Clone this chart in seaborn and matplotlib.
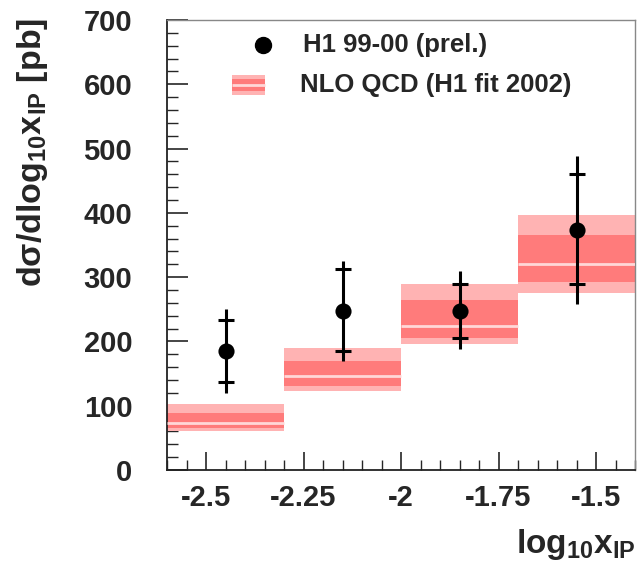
import numpy as np
import pandas as pd
import matplotlib
matplotlib.use('Agg')
import matplotlib.pyplot as plt
import seaborn as sns
from matplotlib.ticker import MultipleLocator, FixedLocator
from matplotlib.patches import Rectangle

# ---- data ----
bin_low = [-2.6, -2.3, -2.0, -1.7]
bin_high = [-2.3, -2.0, -1.7, -1.4]
nlo_central = [73, 147, 224, 320]
nlo_inner_low = [65, 130, 205, 293]
nlo_inner_high = [89, 169, 265, 366]
nlo_outer_low = [61, 123, 196, 275]
nlo_outer_high = [102, 190, 289, 397]

data_x = [-2.45, -2.15, -1.85, -1.55]
data_y = [185, 247, 247, 374]
stat_low = [137, 185, 205, 289]
stat_high = [234, 312, 290, 460]
tot_low = [120, 169, 188, 259]
tot_high = [250, 325, 309, 488]

xticks = [-2.5, -2.25, -2.0, -1.75, -1.5]
xticklabels = ['-2.5', '-2.25', '-2', '-1.75', '-1.5']
yticks = [0, 100, 200, 300, 400, 500, 600, 700]
yticklabels = ['0', '100', '200', '300', '400', '500', '600', '700']

legend_labels = ['H1 99-00 (prel.)', 'NLO QCD (H1 fit 2002)']

# ---- style ----
sns.set_theme(style='white')
plt.rcParams['font.family'] = ['Liberation Sans', 'DejaVu Sans']
plt.rcParams['font.weight'] = 'bold'
plt.rcParams['mathtext.fontset'] = 'custom'
plt.rcParams['mathtext.rm'] = 'Liberation Sans:bold'
plt.rcParams['mathtext.it'] = 'Liberation Sans:bold'
plt.rcParams['mathtext.bf'] = 'Liberation Sans:bold'
plt.rcParams['mathtext.sf'] = 'Liberation Sans:bold'

light = '#ffb3b3'
dark = '#ff7b7b'
pale = '#ffd8d8'

fig = plt.figure(figsize=(6.38, 5.73), dpi=100)
ax = fig.add_axes([167 / 638, 1 - 470 / 573, 468 / 638, 450 / 573])

# NLO bands
for lo, hi, c, il, ih, ol, oh in zip(bin_low, bin_high, nlo_central,
                                     nlo_inner_low, nlo_inner_high,
                                     nlo_outer_low, nlo_outer_high):
    ax.fill_between([lo, hi], [ol, ol], [oh, oh], color=light, lw=0, zorder=1)
    ax.fill_between([lo, hi], [il, il], [ih, ih], color=dark, lw=0, zorder=2)
    ax.plot([lo, hi], [c, c], color=pale, lw=2.0, zorder=3, solid_capstyle='butt')

# data points with errors
df = pd.DataFrame({'x': data_x, 'y': data_y})
ax.vlines(data_x, tot_low, tot_high, color='black', lw=2.2, zorder=4)
yerr = [np.array(data_y) - np.array(stat_low), np.array(stat_high) - np.array(data_y)]
ax.errorbar(data_x, data_y, yerr=yerr, fmt='none', ecolor='black',
            elinewidth=0, capsize=6, capthick=2.2, zorder=4)
sns.scatterplot(data=df, x='x', y='y', color='black', s=135, edgecolor='black',
                linewidth=0, zorder=5, ax=ax, legend=False)

# axes
ax.set_xlim(-2.6, -1.4)
ax.set_ylim(0, 700)
ax.xaxis.set_major_locator(FixedLocator(xticks))
ax.set_xticklabels(xticklabels)
ax.xaxis.set_minor_locator(MultipleLocator(0.05))
ax.yaxis.set_major_locator(FixedLocator(yticks))
ax.set_yticklabels(yticklabels)
ax.yaxis.set_minor_locator(MultipleLocator(20))
ax.tick_params(axis='x', which='major', direction='in', length=13, width=1.2,
               labelsize=21, pad=10, bottom=True, top=False)
ax.tick_params(axis='x', which='minor', direction='in', length=7, width=1.0,
               bottom=True, top=False)
ax.tick_params(axis='y', which='major', direction='in', length=15, width=1.2,
               labelsize=21, pad=25, left=True, right=False)
ax.tick_params(axis='y', which='minor', direction='in', length=8, width=1.0,
               left=True, right=False)
for lab in ax.get_xticklabels() + ax.get_yticklabels():
    lab.set_fontweight('bold')
for s in ['left', 'bottom']:
    ax.spines[s].set_color('#222222')
    ax.spines[s].set_linewidth(1.3)
for s in ['top', 'right']:
    ax.spines[s].set_color('#888888')
    ax.spines[s].set_linewidth(1.0)
ax.set_xlabel('')
ax.set_ylabel('')

# legend (manual)
ax.plot([0.205], [0.944], 'o', color='black', markersize=11.5,
        transform=ax.transAxes, clip_on=False, zorder=6)
ax.text(0.291, 0.944, legend_labels[0], transform=ax.transAxes, fontsize=18.5,
        fontweight='bold', va='center', ha='left')
ax.add_patch(Rectangle((0.139, 0.833), 0.070, 0.045, transform=ax.transAxes,
                       facecolor=light, edgecolor='none', zorder=6))
ax.add_patch(Rectangle((0.139, 0.842), 0.070, 0.027, transform=ax.transAxes,
                       facecolor=dark, edgecolor='none', zorder=7))
ax.plot([0.139, 0.209], [0.856, 0.856], color=pale, lw=2.0,
        transform=ax.transAxes, zorder=8, solid_capstyle='butt')
ax.text(0.284, 0.856, legend_labels[1], transform=ax.transAxes, fontsize=18.5,
        fontweight='bold', va='center', ha='left')

# axis titles
fig.text(33 / 638, 1 - 18 / 573, r'd$\sigma$/dlog$_{10}$x$_{IP}$ [pb]',
         rotation=90, ha='center', va='top', fontsize=24.5, fontweight='bold')
fig.text(635 / 638, 1 - 545 / 573, r'log$_{10}$x$_{IP}$',
         ha='right', va='center', fontsize=24, fontweight='bold')

fig.savefig('out.png', dpi=100)
